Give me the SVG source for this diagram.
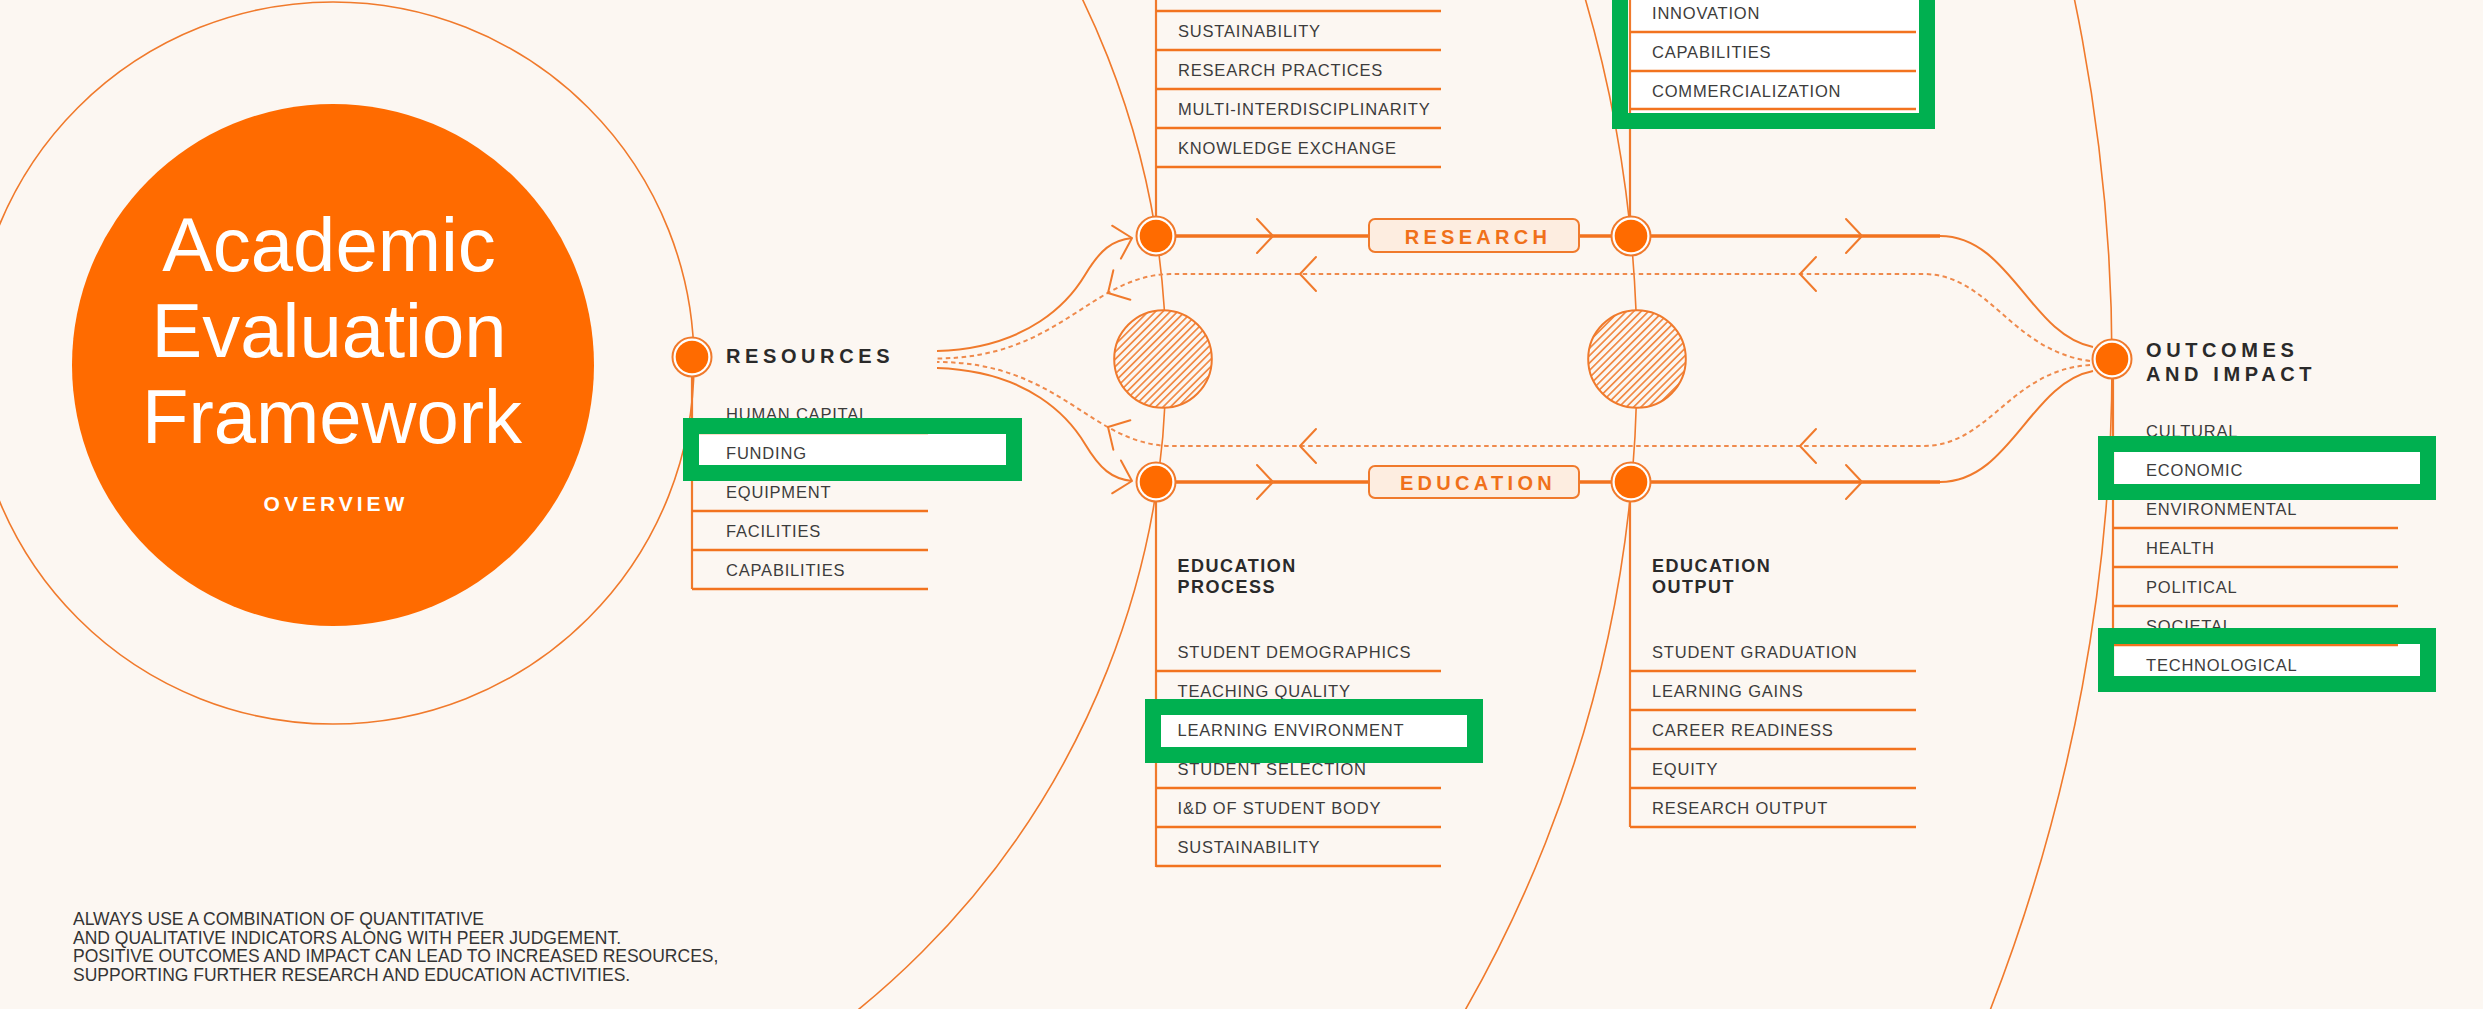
<svg xmlns="http://www.w3.org/2000/svg" width="2483" height="1009" viewBox="0 0 2483 1009">
<style>
  text { font-family: "Liberation Sans", Arial, sans-serif; }
  .orbit { fill: none; stroke: #F07A2C; stroke-width: 1.6; }
  .track { fill: none; stroke: #F2731F; stroke-width: 3.4; }
  .flow { fill: none; stroke: #F07A2C; stroke-width: 2; }
  .ret { fill: none; stroke: #EF8A4C; stroke-width: 2; stroke-dasharray: 4.5 3.5; }
  .chev { fill: none; stroke: #F07A2C; stroke-width: 2; stroke-linecap: round; stroke-linejoin: round; }
  .spine { stroke: #F07A2C; stroke-width: 2.2; }
  .rule { stroke: #F2731F; stroke-width: 2.6; }
  .item { font-size: 16.5px; letter-spacing: 0.8px; fill: #3c3c3c; }
  .head { font-size: 20px; font-weight: bold; letter-spacing: 4.6px; fill: #2a2a2a; }
  .sub { font-size: 18px; font-weight: bold; letter-spacing: 1.5px; fill: #2a2a2a; }
  .tag { fill: #FDEDE0; stroke: #F07A2C; stroke-width: 2; }
  .tagtxt { font-size: 20px; font-weight: bold; letter-spacing: 4.3px; fill: #F0701A; text-anchor: middle; }
  .hl-fill { fill: #FFFFFF; }
  .hl-frame { fill: none; stroke: #00B050; stroke-width: 16; }
  .note { font-size: 17.5px; fill: #343434; }
  .ring { fill: #FFFFFF; stroke: #F07A2C; stroke-width: 2; }
  .core { fill: #FF6B00; }
  .hatched { fill: url(#hatch); stroke: #F07A2C; stroke-width: 2; }
</style>
<defs>
  <pattern id="hatch" patternUnits="userSpaceOnUse" width="5.2" height="5.2" patternTransform="rotate(45)">
    <line x1="2.6" y1="0" x2="2.6" y2="5.2" stroke="#F07A2C" stroke-width="1.5"/>
  </pattern>
  <path id="chevron" d="M-16,-17 L0,0 L-16,17"/>
  <g id="dot">
    <circle class="ring" r="19.5"/>
    <circle class="core" r="16.3"/>
  </g>
</defs>

<rect x="0" y="0" width="2483" height="1009" fill="#FCF7F2"/>

<!-- white backing of the highlight frames -->
<g id="highlight-fills">
  <rect class="hl-fill" x="1620" y="-22" width="307" height="143"/>
  <rect class="hl-fill" x="691" y="426" width="323" height="47"/>
  <rect class="hl-fill" x="1153" y="707" width="322" height="48"/>
  <rect class="hl-fill" x="2106" y="444" width="322" height="48"/>
  <rect class="hl-fill" x="2106" y="636" width="322" height="48"/>
</g>

<!-- concentric orbits around the title disc -->
<g id="orbits">
  <circle class="orbit" cx="333" cy="363" r="361"/>
  <circle class="orbit" cx="333" cy="363" r="833"/>
  <circle class="orbit" cx="333" cy="363" r="1304"/>
  <circle class="orbit" cx="333" cy="363" r="1779"/>
</g>

<g id="title">
  <circle cx="333" cy="365" r="261" fill="#FF6B00"/>
  <text x="329" y="271" font-size="76" fill="#FFFFFF" text-anchor="middle">Academic</text>
  <text x="329" y="357" font-size="76" fill="#FFFFFF" text-anchor="middle">Evaluation</text>
  <text x="332" y="443" font-size="76" fill="#FFFFFF" text-anchor="middle">Framework</text>
  <text x="336" y="511" font-size="21" font-weight="bold" letter-spacing="4" fill="#FFFFFF" text-anchor="middle">OVERVIEW</text>
</g>

<!-- flows between the stages -->
<g id="connectors">
  <path class="ret" d="M2090,361 C2010,350 1990,274 1923,274 L1170,274 C1090,276 1060,358 937,358.5"/>
  <path class="ret" d="M2090,365 C2010,370 1990,446 1923,446 L1170,446 C1090,444 1060,362 937,362"/>
  <path class="flow" d="M937,351 C1030,348 1070,300 1085,275 C1100,250 1112,240 1132,238"/>
  <path class="flow" d="M937,368 C1030,371 1070,419 1085,444 C1100,469 1112,479 1132,481"/>
  <path class="track" d="M1156,236 H1940"/>
  <path class="track" d="M1156,482 H1940"/>
  <path class="flow" d="M1940,236 C2010,236 2030,335 2093,347"/>
  <path class="flow" d="M1940,482 C2010,482 2030,383 2093,371"/>
  <use href="#chevron" class="chev" transform="translate(1132,238) rotate(-15)"/>
  <use href="#chevron" class="chev" transform="translate(1132,481) rotate(15)"/>
  <use href="#chevron" class="chev" transform="translate(1108,293) rotate(150)"/>
  <use href="#chevron" class="chev" transform="translate(1108,427) rotate(-150)"/>
  <use href="#chevron" class="chev" transform="translate(1273,236)"/>
  <use href="#chevron" class="chev" transform="translate(1862,236)"/>
  <use href="#chevron" class="chev" transform="translate(1273,482)"/>
  <use href="#chevron" class="chev" transform="translate(1862,482)"/>
  <use href="#chevron" class="chev" transform="translate(1300,274) rotate(180)"/>
  <use href="#chevron" class="chev" transform="translate(1800,274) rotate(180)"/>
  <use href="#chevron" class="chev" transform="translate(1300,446) rotate(180)"/>
  <use href="#chevron" class="chev" transform="translate(1800,446) rotate(180)"/>
</g>

<g id="research-label">
  <rect class="tag" x="1369" y="219" width="210" height="33" rx="6"/>
  <text class="tagtxt" x="1478" y="244">RESEARCH</text>
</g>
<g id="education-label">
  <rect class="tag" x="1369" y="466" width="210" height="32" rx="6"/>
  <text class="tagtxt" x="1478" y="490">EDUCATION</text>
</g>

<g id="hub-research">
  <circle cx="1163" cy="359" r="48.8" fill="#FCF7F2"/>
  <circle class="hatched" cx="1163" cy="359" r="48.8"/>
</g>
<g id="hub-education">
  <circle cx="1637" cy="359" r="48.8" fill="#FCF7F2"/>
  <circle class="hatched" cx="1637" cy="359" r="48.8"/>
</g>

<g id="resources">
  <line class="spine" x1="692" y1="357" x2="692" y2="589"/>
  <line class="rule" x1="692" y1="433" x2="928" y2="433"/>
  <line class="rule" x1="692" y1="472" x2="928" y2="472"/>
  <line class="rule" x1="692" y1="511" x2="928" y2="511"/>
  <line class="rule" x1="692" y1="550" x2="928" y2="550"/>
  <line class="rule" x1="692" y1="589" x2="928" y2="589"/>
  <use href="#dot" x="692" y="357"/>
  <text class="head" x="726" y="362.5">RESOURCES</text>
  <text class="item" x="726" y="419.5">HUMAN CAPITAL</text>
  <text class="item" x="726" y="458.5">FUNDING</text>
  <text class="item" x="726" y="497.5">EQUIPMENT</text>
  <text class="item" x="726" y="536.5">FACILITIES</text>
  <text class="item" x="726" y="575.5">CAPABILITIES</text>
</g>

<g id="research-process">
  <line class="spine" x1="1156" y1="-2" x2="1156" y2="236"/>
  <line class="rule" x1="1156" y1="11" x2="1441" y2="11"/>
  <line class="rule" x1="1156" y1="50" x2="1441" y2="50"/>
  <line class="rule" x1="1156" y1="89" x2="1441" y2="89"/>
  <line class="rule" x1="1156" y1="128" x2="1441" y2="128"/>
  <line class="rule" x1="1156" y1="167" x2="1441" y2="167"/>
  <text class="item" x="1178" y="37">SUSTAINABILITY</text>
  <text class="item" x="1178" y="76">RESEARCH PRACTICES</text>
  <text class="item" x="1178" y="115">MULTI-INTERDISCIPLINARITY</text>
  <text class="item" x="1178" y="154">KNOWLEDGE EXCHANGE</text>
  <use href="#dot" x="1156" y="236"/>
</g>

<g id="research-output">
  <line class="spine" x1="1630" y1="-2" x2="1630" y2="236"/>
  <line class="rule" x1="1630" y1="32" x2="1916" y2="32"/>
  <line class="rule" x1="1630" y1="71" x2="1916" y2="71"/>
  <line class="rule" x1="1630" y1="109" x2="1916" y2="109"/>
  <text class="item" x="1652" y="18.5">INNOVATION</text>
  <text class="item" x="1652" y="57.5">CAPABILITIES</text>
  <text class="item" x="1652" y="96.5">COMMERCIALIZATION</text>
  <use href="#dot" x="1631" y="236"/>
</g>

<g id="education-process">
  <line class="spine" x1="1156" y1="482" x2="1156" y2="867"/>
  <line class="rule" x1="1156" y1="671" x2="1441" y2="671"/>
  <line class="rule" x1="1156" y1="710" x2="1441" y2="710"/>
  <line class="rule" x1="1156" y1="749" x2="1441" y2="749"/>
  <line class="rule" x1="1156" y1="788" x2="1441" y2="788"/>
  <line class="rule" x1="1156" y1="827" x2="1441" y2="827"/>
  <line class="rule" x1="1156" y1="866" x2="1441" y2="866"/>
  <text class="sub" x="1177.5" y="572">EDUCATION</text>
  <text class="sub" x="1177.5" y="593">PROCESS</text>
  <text class="item" x="1177.5" y="658">STUDENT DEMOGRAPHICS</text>
  <text class="item" x="1177.5" y="697">TEACHING QUALITY</text>
  <text class="item" x="1177.5" y="736">LEARNING ENVIRONMENT</text>
  <text class="item" x="1177.5" y="775">STUDENT SELECTION</text>
  <text class="item" x="1177.5" y="814">I&amp;D OF STUDENT BODY</text>
  <text class="item" x="1177.5" y="853">SUSTAINABILITY</text>
  <use href="#dot" x="1156" y="482"/>
</g>

<g id="education-output">
  <line class="spine" x1="1630" y1="482" x2="1630" y2="827"/>
  <line class="rule" x1="1630" y1="671" x2="1916" y2="671"/>
  <line class="rule" x1="1630" y1="710" x2="1916" y2="710"/>
  <line class="rule" x1="1630" y1="749" x2="1916" y2="749"/>
  <line class="rule" x1="1630" y1="788" x2="1916" y2="788"/>
  <line class="rule" x1="1630" y1="827" x2="1916" y2="827"/>
  <text class="sub" x="1652" y="572">EDUCATION</text>
  <text class="sub" x="1652" y="593">OUTPUT</text>
  <text class="item" x="1652" y="658">STUDENT GRADUATION</text>
  <text class="item" x="1652" y="697">LEARNING GAINS</text>
  <text class="item" x="1652" y="736">CAREER READINESS</text>
  <text class="item" x="1652" y="775">EQUITY</text>
  <text class="item" x="1652" y="814">RESEARCH OUTPUT</text>
  <use href="#dot" x="1631" y="482"/>
</g>

<g id="outcomes">
  <line class="spine" x1="2113" y1="359" x2="2113" y2="684"/>
  <line class="rule" x1="2113" y1="450" x2="2398" y2="450"/>
  <line class="rule" x1="2113" y1="489" x2="2398" y2="489"/>
  <line class="rule" x1="2113" y1="528" x2="2398" y2="528"/>
  <line class="rule" x1="2113" y1="567" x2="2398" y2="567"/>
  <line class="rule" x1="2113" y1="606" x2="2398" y2="606"/>
  <line class="rule" x1="2113" y1="645" x2="2398" y2="645"/>
  <line class="rule" x1="2113" y1="684" x2="2398" y2="684"/>
  <use href="#dot" x="2112" y="359"/>
  <text class="head" x="2146" y="357">OUTCOMES</text>
  <text class="head" x="2146" y="381">AND IMPACT</text>
  <text class="item" x="2146" y="437">CULTURAL</text>
  <text class="item" x="2146" y="476">ECONOMIC</text>
  <text class="item" x="2146" y="515">ENVIRONMENTAL</text>
  <text class="item" x="2146" y="554">HEALTH</text>
  <text class="item" x="2146" y="593">POLITICAL</text>
  <text class="item" x="2146" y="632">SOCIETAL</text>
  <text class="item" x="2146" y="671">TECHNOLOGICAL</text>
</g>

<g id="footnote">
  <text class="note" x="73" y="925">ALWAYS USE A COMBINATION OF QUANTITATIVE</text>
  <text class="note" x="73" y="943.5">AND QUALITATIVE INDICATORS ALONG WITH PEER JUDGEMENT.</text>
  <text class="note" x="73" y="962">POSITIVE OUTCOMES AND IMPACT CAN LEAD TO INCREASED RESOURCES,</text>
  <text class="note" x="73" y="980.5">SUPPORTING FURTHER RESEARCH AND EDUCATION ACTIVITIES.</text>
</g>

<!-- green highlight frames -->
<g id="highlight-frames">
  <rect class="hl-frame" x="1620" y="-22" width="307" height="143"/>
  <rect class="hl-frame" x="691" y="426" width="323" height="47"/>
  <rect class="hl-frame" x="1153" y="707" width="322" height="48"/>
  <rect class="hl-frame" x="2106" y="444" width="322" height="48"/>
  <rect class="hl-frame" x="2106" y="636" width="322" height="48"/>
</g>
</svg>
